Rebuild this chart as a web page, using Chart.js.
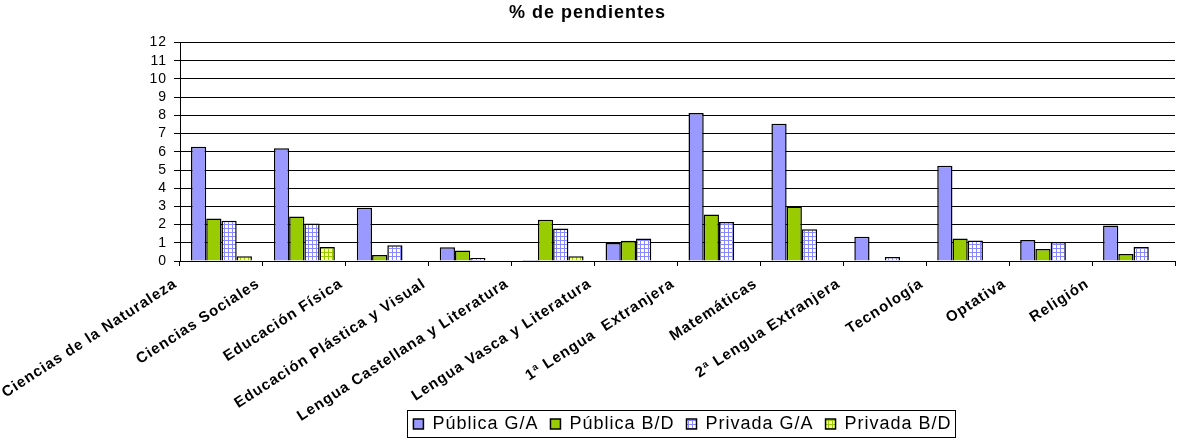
<!DOCTYPE html>
<html><head><meta charset="utf-8">
<script src="https://cdn.jsdelivr.net/npm/chart.js@4"></script>
<style>html,body{margin:0;padding:0;background:#fff;}</style>
</head><body>
<canvas id="c" width="1178" height="441"></canvas>
<script>
const categories = ['Ciencias de la Naturaleza','Ciencias Sociales','Educación Física','Educación Plástica y Visual','Lengua Castellana y Literatura','Lengua Vasca y Literatura','1ª Lengua  Extranjera','Matemáticas','2ª Lengua Extranjera','Tecnología','Optativa','Religión'];
const seriesNames = ['Pública G/A','Pública B/D','Privada G/A','Privada B/D'];
const publicaGA = [6.28,6.19,2.92,0.75,0.05,0.99,8.13,7.54,1.33,5.24,1.15,1.95];
const publicaBD = [2.34,2.45,0.33,0.58,2.26,1.11,2.56,3.00,0,1.24,0.66,0.38];
const privadaGA = [2.21,2.06,0.86,0.16,1.79,1.24,2.14,1.74,0.22,1.13,1.04,0.77];
const privadaBD = [0.26,0.77,0,0,0.26,0,0,0,0,0,0,0];
const yMin = 0, yMax = 12, yStep = 1;
const titleText = '% de pendientes';

const FONT = "'Liberation Sans', Arial, sans-serif";
const cv = document.getElementById('c');
const ctx = cv.getContext('2d');

function pattern(bg, line) {
  const p = document.createElement('canvas'); p.width = 4; p.height = 4;
  const x = p.getContext('2d');
  x.fillStyle = bg; x.fillRect(0,0,4,4);
  x.fillStyle = line; x.fillRect(0,0,4,1); x.fillRect(0,0,1,4);
  return ctx.createPattern(p, 'repeat');
}

const spacing = {
  id: 'spacing',
  beforeUpdate(chart){ chart.ctx.letterSpacing = '1px'; },
  beforeDraw(chart){ chart.ctx.letterSpacing = '1px'; },
  afterLayout(chart){
    const x = chart.scales.x;
    x.bottom = chart.height;           // let rotated labels extend below the axis box
    const lg = chart.legend;
    if (lg) { lg.top += 5; lg.bottom += 5; lg.left += 5; lg.right += 5; }
  }
};
const legendBorder = {
  id: 'legendBorder',
  afterDraw(chart){
    const hb = chart.legend && chart.legend.legendHitBoxes;
    if (!hb || !hb.length) return;
    let l = Infinity, r = -Infinity, t = Infinity, b = -Infinity;
    hb.forEach(h => { l = Math.min(l, h.left); r = Math.max(r, h.left + h.width); t = Math.min(t, h.top); b = Math.max(b, h.top + h.height); });
    const c = chart.ctx; c.save();
    c.strokeStyle = '#000'; c.lineWidth = 1;
    c.strokeRect(Math.round(l - 6) + 0.5, Math.round(t - 5) + 0.5, Math.round(r - l + 10), Math.round(b - t + 9));
    c.restore();
  }
};

const common = { borderColor: '#000', borderWidth: 1.5, categoryPercentage: 0.735, barPercentage: 1 };

new Chart(ctx, {
  type: 'bar',
  data: {
    labels: categories,
    datasets: [
      Object.assign({ label: seriesNames[0], data: publicaGA, backgroundColor: '#9999FF' }, common),
      Object.assign({ label: seriesNames[1], data: publicaBD, backgroundColor: '#99CC00' }, common),
      Object.assign({ label: seriesNames[2], data: privadaGA, backgroundColor: pattern('#FFFFFF', '#8888FF') }, common),
      Object.assign({ label: seriesNames[3], data: privadaBD, backgroundColor: pattern('#FFFF99', '#99CC00') }, common)
    ]
  },
  options: {
    responsive: false,
    animation: false,
    devicePixelRatio: 1,
    layout: { padding: { left: 0, right: 3, top: 0, bottom: 3 } },
    plugins: {
      title: { display: true, text: titleText, color: '#000', font: { family: FONT, size: 18, weight: 'bold' }, padding: { top: 2, bottom: 19 } },
      legend: {
        position: 'bottom', fullSize: false,
        labels: { color: '#000', font: { family: FONT, size: 18 }, boxWidth: 10, boxHeight: 10, padding: 12 }
      },
      tooltip: { enabled: false }
    },
    scales: {
      x: {
        grid: { display: true, drawOnChartArea: false, drawTicks: true, tickLength: 5, color: '#000', offset: true },
        border: { color: '#000', width: 1 },
        ticks: { autoSkip: false, maxRotation: 33, minRotation: 33, labelOffset: -46, padding: 9, color: '#000', font: { family: FONT, size: 15, weight: 'bold' } },
        afterFit(s){ s.paddingLeft = 0; s.paddingRight = 0; s.height = 137; }
      },
      y: {
        min: yMin, max: yMax,
        ticks: { stepSize: yStep, autoSkip: false, color: '#000', padding: 7, font: { family: FONT, size: 14 } },
        grid: { color: '#000', lineWidth: 1, drawTicks: true, tickLength: 6, tickColor: '#000' },
        border: { color: '#000', width: 1 },
        afterFit(s){ s.width = 180; }
      }
    }
  },
  plugins: [spacing, legendBorder]
});
</script>
</body></html>
